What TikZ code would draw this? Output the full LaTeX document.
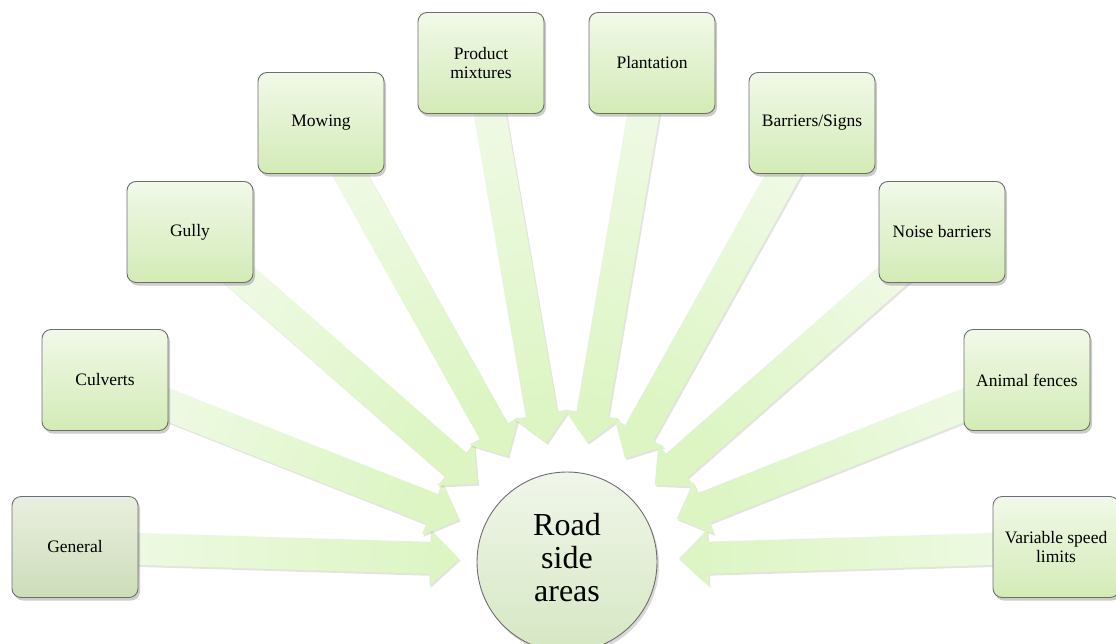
\documentclass[tikz,border=0pt]{standalone}
\usepackage{fontspec}
\setmainfont{Liberation Serif}
\usetikzlibrary{calc,shadows}
\pgfdeclarelayer{background}
\pgfsetlayers{background,main}
\definecolor{boxtop}{HTML}{F1F9E8}
\definecolor{boxbot}{HTML}{D3EBB6}
\definecolor{gentop}{HTML}{E9EFDF}
\definecolor{genbot}{HTML}{CDDDBA}
\definecolor{arrL}{HTML}{F0FAE7}
\definecolor{arrD}{HTML}{DCF5C2}
\definecolor{circtop}{HTML}{F0F6EA}
\definecolor{circbot}{HTML}{D6E7C3}
\definecolor{edgegray}{HTML}{6E6E6E}
\tikzset{
  itembox/.style={draw=edgegray, line width=0.9pt, rounded corners=9pt,
    minimum width=126pt, minimum height=101pt, inner sep=2pt,
    top color=boxtop, bottom color=boxbot, align=center,
    font=\fontsize{17.5}{19}\selectfont,
    drop shadow={opacity=0.4, shadow xshift=2pt, shadow yshift=-3pt}},
  genbox/.style={itembox, top color=gentop, bottom color=genbot},
  hubcircle/.style={circle, draw=edgegray, line width=0.9pt, minimum size=180pt,
    inner sep=0pt, top color=circtop, bottom color=circbot, align=center,
    font=\fontsize{32}{33}\selectfont,
    drop shadow={opacity=0.3, shadow xshift=2pt, shadow yshift=-3pt}},
  arrowshape/.style={top color=arrL, bottom color=arrD,
    drop shadow={opacity=0.22, shadow xshift=1.5pt, shadow yshift=-2pt}}
}
\newcommand\blkarrow[2]{%
  \path let \p1=(C), \p2=(#1), \n1={atan2(\y2-\y1,\x2-\x1)},
    \n2={veclen(\x2-\x1,\y2-\y1)} in \pgfextra{\xdef\arangraw{\n1}\xdef\arlenraw{\n2}};
  \pgfmathsetmacro\arang{\arangraw}
  \pgfmathsetmacro\arlen{\arlenraw}
  \pgfmathsetmacro\shang{\arang-90}
  \pgfmathsetmacro\arhb{#2+29}
  \begin{pgfonlayer}{background}
  \path[arrowshape, shading angle=\shang]
    ($(C)+(\arang:\arlen pt)+(\arang+90:16pt)$) --
    ($(C)+(\arang:\arhb pt)+(\arang+90:16pt)$) --
    ($(C)+(\arang:\arhb pt)+(\arang+90:28pt)$) --
    ($(C)+(\arang:#2pt)$) --
    ($(C)+(\arang:\arhb pt)+(\arang-90:28pt)$) --
    ($(C)+(\arang:\arhb pt)+(\arang-90:16pt)$) --
    ($(C)+(\arang:\arlen pt)+(\arang-90:16pt)$) -- cycle;
  \end{pgfonlayer}
}
\begin{document}
\begin{tikzpicture}[x=1pt,y=-1pt]
\useasboundingbox (0,0) rectangle (1116,643);
\coordinate (C) at (567,562);
\node[genbox] (gen) at (75,547) {General};
\node[itembox] (culv) at (105,380) {Culverts};
\node[itembox] (gully) at (190,232) {Gully};
\node[itembox] (mow) at (321,123) {Mowing};
\node[itembox] (prod) at (481,63) {Product\\mixtures};
\node[itembox] (plant) at (652,63) {Plantation};
\node[itembox] (barr) at (812,123) {Barriers/Signs};
\node[itembox] (noise) at (942,232) {Noise barriers};
\node[itembox] (animal) at (1027,380) {Animal fences};
\node[itembox] (var) at (1056,547) {Variable speed\\limits};
\blkarrow{gen}{108}
\blkarrow{culv}{116}
\blkarrow{gully}{119}
\blkarrow{mow}{121}
\blkarrow{prod}{121}
\blkarrow{plant}{121}
\blkarrow{barr}{119}
\blkarrow{noise}{117}
\blkarrow{animal}{118}
\blkarrow{var}{112}
\node[hubcircle] (hub) at (C) {\raisebox{5pt}{\begin{tabular}{@{}c@{}}Road\\side\\areas\end{tabular}}};
\end{tikzpicture}
\end{document}
